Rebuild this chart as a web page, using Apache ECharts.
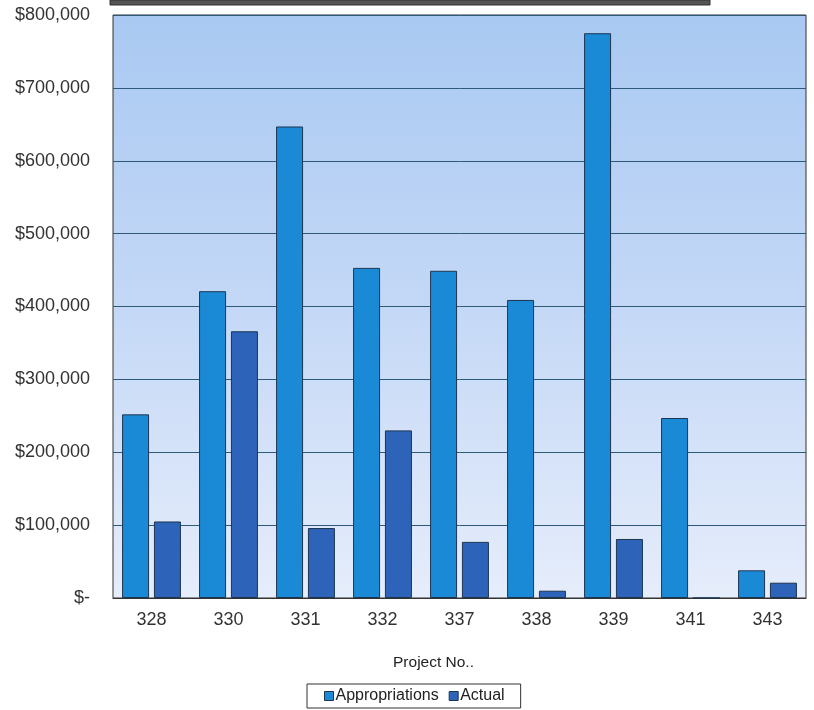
<!DOCTYPE html>
<html><head><meta charset="utf-8">
<script src="https://cdn.jsdelivr.net/npm/echarts@6/dist/echarts.min.js"></script>
<style>html,body{margin:0;padding:0;background:#fff}#c{width:814px;height:710px}</style>
</head><body><div id="c"></div>
<script>
const categories = ['328','330','331','332','337','338','339','341','343'];
const appropriations = [252000, 421000, 647000, 453000, 449000, 409000, 775000, 247000, 38000];
const actual = [105000, 366000, 96000, 230000, 77000, 10000, 81000, 0, 21000];
const seriesNames = ['Appropriations', 'Actual'];

const chart = echarts.init(document.getElementById('c'));
chart.setOption({
  animation: false,
  backgroundColor: '#ffffff',
  textStyle: { fontFamily: 'Liberation Sans, Arial, sans-serif' },
  graphic: [
    { type: 'rect', shape: { x: 110, y: 0, width: 600, height: 5 }, style: { fill: '#555', stroke: '#333' } }
  ],
  grid: {
    left: 113, right: 8, top: 15, bottom: 112,
    show: true,
    borderColor: '#333', borderWidth: 1,
    backgroundColor: new echarts.graphic.LinearGradient(0, 0, 0, 1, [
      { offset: 0, color: '#a9c9f2' },
      { offset: 0.5, color: '#c4d8f6' },
      { offset: 1, color: '#e6edfb' }
    ])
  },
  legend: {
    top: 684, left: 307,
    data: seriesNames,
    icon: 'rect', itemWidth: 9, itemHeight: 9, itemGap: 10,
    itemStyle: { borderColor: '#1d3550', borderWidth: 1 },
    borderColor: '#333', borderWidth: 1, padding: [4, 16, 4, 17],
    textStyle: { fontSize: 16, color: '#222', padding: [0, 0, 0, -3] }
  },
  xAxis: {
    type: 'category',
    data: categories,
    name: 'Project No..',
    nameLocation: 'middle',
    nameGap: 57,
    nameTextStyle: { fontSize: 15.5, color: '#222', padding: [0, 52, 0, 0] },
    axisLine: { lineStyle: { color: '#333' } },
    axisTick: { show: false },
    axisLabel: { fontSize: 18, color: '#333', margin: 13 }
  },
  yAxis: {
    type: 'value',
    min: 0, max: 800000, interval: 100000,
    axisLine: { show: false },
    axisTick: { show: false },
    splitLine: { lineStyle: { color: '#2d5a78', width: 1 } },
    axisLabel: {
      fontSize: 18, color: '#333', margin: 23,
      formatter: v => v === 0 ? '$-' : '$' + v.toLocaleString('en-US')
    }
  },
  series: [
    {
      name: seriesNames[0], type: 'bar', data: appropriations,
      barWidth: 27, barGap: '18%',
      itemStyle: { color: '#1b8ad6', borderColor: '#1d3550', borderWidth: 1 }
    },
    {
      name: seriesNames[1], type: 'bar', data: actual,
      barWidth: 27,
      itemStyle: { color: '#2d63b8', borderColor: '#1d3550', borderWidth: 1 }
    }
  ]
});
</script></body></html>
